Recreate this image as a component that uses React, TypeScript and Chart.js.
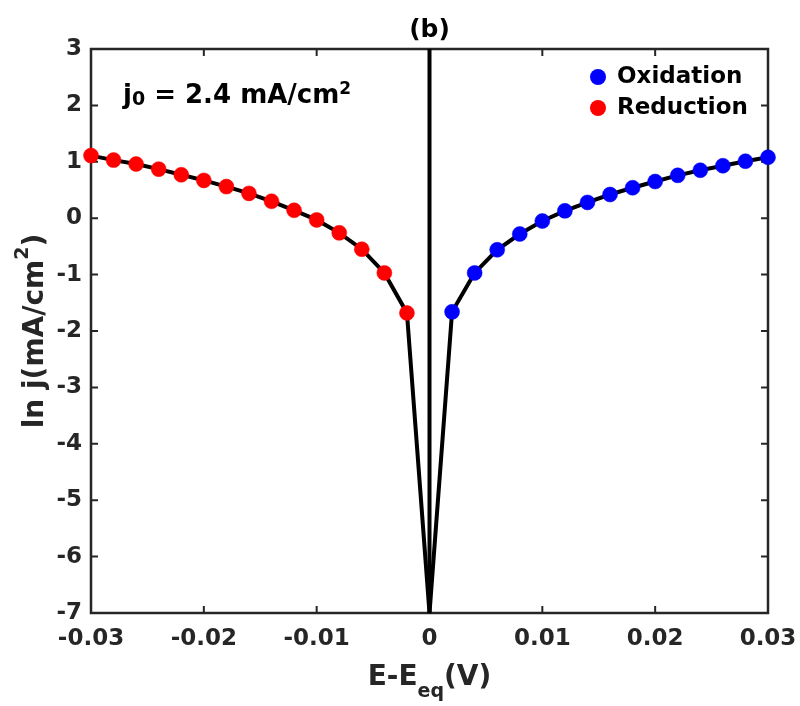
import React, { useEffect, useRef } from "react";
import { Chart, registerables } from "chart.js";

Chart.register(...registerables);

// ---- Data ----
const reductionE = [-0.03, -0.028, -0.026, -0.024, -0.022, -0.02, -0.018, -0.016, -0.014, -0.012, -0.01, -0.008, -0.006, -0.004, -0.002];
const reductionLnJ = [1.11, 1.03, 0.96, 0.87, 0.77, 0.67, 0.56, 0.44, 0.30, 0.14, -0.03, -0.26, -0.55, -0.97, -1.68];
const oxidationE = [0.002, 0.004, 0.006, 0.008, 0.01, 0.012, 0.014, 0.016, 0.018, 0.02, 0.022, 0.024, 0.026, 0.028, 0.03];
const oxidationLnJ = [-1.66, -0.97, -0.56, -0.28, -0.05, 0.13, 0.28, 0.42, 0.54, 0.65, 0.76, 0.85, 0.93, 1.01, 1.08];
const vertexE = 0;
const vertexLnJ = -7;
const equilibriumLineE = [0, 0];
const equilibriumLineLnJ = [-7, 3];
const xTickValues = [-0.03, -0.02, -0.01, 0, 0.01, 0.02, 0.03];
const yTickValues = [-7, -6, -5, -4, -3, -2, -1, 0, 1, 2, 3];

const FONT = '"DejaVu Sans", "Liberation Sans", sans-serif';
const AXIS_COLOR = "#262626";

type Part = { text: string; size: number; dy: number };

function drawParts(ctx: CanvasRenderingContext2D, parts: Part[], x: number, y: number, align: "left" | "center") {
  const widths: number[] = [];
  let total = 0;
  for (const p of parts) {
    ctx.font = `bold ${p.size}px ${FONT}`;
    const w = ctx.measureText(p.text).width;
    widths.push(w);
    total += w;
  }
  let cx = align === "center" ? x - total / 2 : x;
  ctx.textAlign = "left";
  ctx.textBaseline = "alphabetic";
  parts.forEach((p, i) => {
    ctx.font = `bold ${p.size}px ${FONT}`;
    ctx.fillText(p.text, cx, y + p.dy);
    cx += widths[i];
  });
}

const framePlugin = {
  id: "framePlugin",
  beforeDatasetsDraw(chart: any) {
    const { ctx, chartArea } = chart;
    const { left, right, top, bottom } = chartArea;
    const xs = chart.scales.x;
    const ys = chart.scales.y;
    ctx.save();
    ctx.strokeStyle = AXIS_COLOR;
    ctx.lineWidth = 2.5;
    ctx.strokeRect(left, top, right - left, bottom - top);
    ctx.lineWidth = 2;
    const tl = 7;
    ctx.beginPath();
    for (const v of xTickValues) {
      const px = xs.getPixelForValue(v);
      ctx.moveTo(px, bottom);
      ctx.lineTo(px, bottom - tl);
      ctx.moveTo(px, top);
      ctx.lineTo(px, top + tl);
    }
    for (const v of yTickValues) {
      const py = ys.getPixelForValue(v);
      ctx.moveTo(left, py);
      ctx.lineTo(left + tl, py);
      ctx.moveTo(right, py);
      ctx.lineTo(right - tl, py);
    }
    ctx.stroke();
    ctx.restore();
  },
  afterDraw(chart: any) {
    const { ctx, chartArea } = chart;
    const { left, right, top, bottom } = chartArea;
    ctx.save();
    // Title
    ctx.fillStyle = "#000";
    drawParts(ctx, [{ text: "(b)", size: 25, dy: 0 }], (left + right) / 2, 37, "center");

    // Annotation
    drawParts(
      ctx,
      [
        { text: "j", size: 26, dy: 0 },
        { text: "0", size: 19, dy: 2 },
        { text: " = 2.4 mA/cm", size: 26, dy: 0 },
        { text: "2", size: 17, dy: -9 },
      ],
      123,
      103,
      "left"
    );

    // Legend
    const legendItems = [
      { label: "Oxidation", color: "#0000ff", y: 77 },
      { label: "Reduction", color: "#ff0000", y: 108 },
    ];
    for (const item of legendItems) {
      ctx.beginPath();
      ctx.fillStyle = item.color;
      ctx.arc(598, item.y, 8, 0, Math.PI * 2);
      ctx.fill();
      ctx.fillStyle = "#000";
      ctx.font = `bold 23px ${FONT}`;
      ctx.textAlign = "left";
      ctx.textBaseline = "middle";
      ctx.fillText(item.label, 617, item.y);
    }

    // X axis title
    ctx.fillStyle = AXIS_COLOR;
    drawParts(
      ctx,
      [
        { text: "E-E", size: 28, dy: 0 },
        { text: "eq", size: 19, dy: 12 },
        { text: "(V)", size: 28, dy: 0 },
      ],
      (left + right) / 2,
      685,
      "center"
    );

    // Y axis title (rotated)
    ctx.save();
    ctx.translate(43, (top + bottom) / 2);
    ctx.rotate(-Math.PI / 2);
    drawParts(
      ctx,
      [
        { text: "ln j(mA/cm", size: 28, dy: 0 },
        { text: "2", size: 19, dy: -15 },
        { text: ")", size: 28, dy: 0 },
      ],
      0,
      0,
      "center"
    );
    ctx.restore();
    ctx.restore();
  },
};

function fmtX(v: number) {
  if (Math.abs(v) < 1e-9) return "0";
  return v.toFixed(2);
}

export default function App() {
  const ref = useRef<HTMLCanvasElement | null>(null);
  useEffect(() => {
    if (!ref.current) return;
    const curve = [
      ...reductionE.map((e, i) => ({ x: e, y: reductionLnJ[i] })),
      { x: vertexE, y: vertexLnJ },
      ...oxidationE.map((e, i) => ({ x: e, y: oxidationLnJ[i] })),
    ];
    const chart = new Chart(ref.current, {
      type: "scatter",
      data: {
        datasets: [
          {
            label: "Oxidation",
            data: oxidationE.map((e, i) => ({ x: e, y: oxidationLnJ[i] })),
            backgroundColor: "#0000ff",
            borderColor: "#0000ff",
            pointRadius: 7.5,
            pointBorderWidth: 0.5,
            showLine: false,
            clip: false,
            order: 0,
          } as any,
          {
            label: "Reduction",
            data: reductionE.map((e, i) => ({ x: e, y: reductionLnJ[i] })),
            backgroundColor: "#ff0000",
            borderColor: "#ff0000",
            pointRadius: 7.5,
            pointBorderWidth: 0.5,
            showLine: false,
            clip: false,
            order: 0,
          } as any,
          {
            label: "curve",
            data: curve,
            borderColor: "#000",
            borderWidth: 4,
            pointRadius: 0,
            showLine: true,
            clip: false,
            order: 1,
          } as any,
          {
            label: "E = Eeq",
            data: equilibriumLineE.map((e, i) => ({ x: e, y: equilibriumLineLnJ[i] })),
            borderColor: "#000",
            borderWidth: 4,
            pointRadius: 0,
            showLine: true,
            clip: false,
            order: 2,
          } as any,
        ],
      },
      options: {
        animation: false,
        responsive: true,
        maintainAspectRatio: false,
        layout: { padding: { left: 0, right: 32, top: 49, bottom: 0 } },
        plugins: {
          legend: { display: false },
          tooltip: { enabled: false },
          title: { display: false },
        },
        scales: {
          x: {
            type: "linear",
            min: -0.03,
            max: 0.03,
            grid: { display: false, drawTicks: false },
            border: { display: false },
            afterBuildTicks: (s: any) => {
              s.ticks = xTickValues.map((v) => ({ value: v }));
            },
            afterFit: (s: any) => {
              s.height = 93;
              s.paddingLeft = 0;
              s.paddingRight = 0;
            },
            ticks: {
              color: AXIS_COLOR,
              font: { family: FONT, size: 23, weight: "bold" },
              padding: 12,
              maxRotation: 0,
              autoSkip: false,
              callback: (v: any) => fmtX(Number(v)),
            },
          },
          y: {
            type: "linear",
            min: -7,
            max: 3,
            grid: { display: false, drawTicks: false },
            border: { display: false },
            afterBuildTicks: (s: any) => {
              s.ticks = yTickValues.map((v) => ({ value: v }));
            },
            afterFit: (s: any) => {
              s.width = 91;
              s.paddingTop = 0;
              s.paddingBottom = 0;
            },
            ticks: {
              color: AXIS_COLOR,
              font: { family: FONT, size: 23, weight: "bold" },
              padding: 9,
              autoSkip: false,
              callback: (v: any) => String(v),
            },
          },
        },
      },
      plugins: [framePlugin],
    });
    return () => chart.destroy();
  }, []);
  return (
    <div style={{ position: "fixed", left: 0, top: 0, width: 800, height: 706, background: "#fff" }}>
      <canvas ref={ref} />
    </div>
  );
}
